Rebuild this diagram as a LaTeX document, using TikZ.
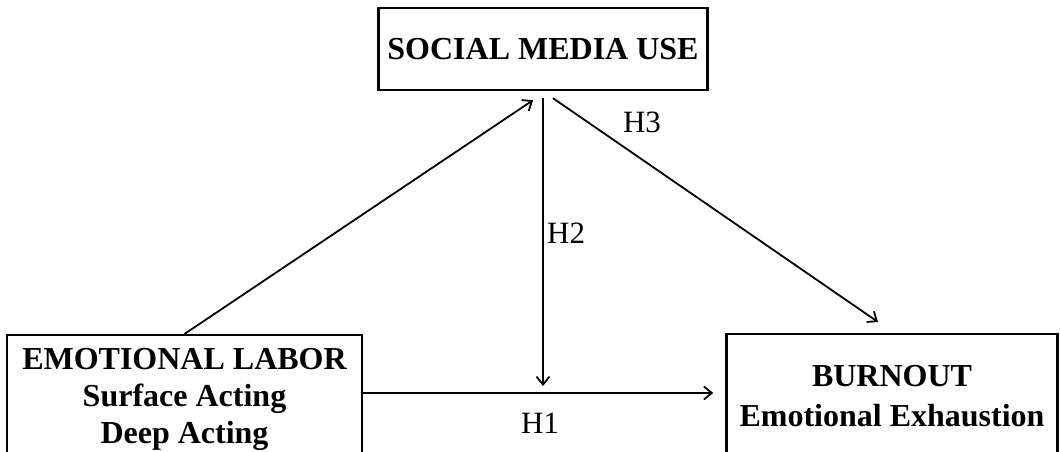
\documentclass[tikz,border=0pt]{standalone}
\usepackage{fontspec}
\setmainfont{Liberation Serif}
\usetikzlibrary{arrows.meta}

\begin{document}
\begin{tikzpicture}[x=1pt,y=1pt,>={Straight Barb[length=8pt,width=13pt]}]
\tikzstyle{every node}=[font=\fontsize{31}{37}\selectfont]
\tikzstyle{box}=[draw,line width=2.4pt,align=center,font=\fontsize{32}{37}\selectfont\bfseries]
\tikzstyle{arr}=[->,line width=1.8pt]
\useasboundingbox (0,0) rectangle (1060,452);
\node[box,minimum width=329pt,minimum height=82pt](social) at (543,403){SOCIAL MEDIA USE};
\node[box,anchor=north,minimum width=355pt,inner ysep=13pt](labor) at (184.5,118){EMOTIONAL LABOR\\Surface Acting\\Deep Acting};
\node[box,anchor=north,minimum width=331pt,inner ysep=31pt,font=\fontsize{32}{40}\selectfont\bfseries](burnout) at (892,119){BURNOUT\\Emotional Exhaustion};
\coordinate (mid) at (543,59);
\draw[arr](labor.north)--([shift={(-10pt,-9pt)}]social.south);
\draw[arr]([yshift=-7pt]social.south)--([yshift=7pt]mid) node[pos=0.47,right](h2){H2};
\draw[arr]([shift={(10pt,-7pt)}]social.south)--([shift={(-14pt,11pt)}]burnout.north);
\draw[arr](labor.east |- mid)--([xshift=-12pt]burnout.west |- mid);
\node(h3) at (642,330){H3};
\node(h1) at (540,29){H1};

\end{tikzpicture}
\end{document}
